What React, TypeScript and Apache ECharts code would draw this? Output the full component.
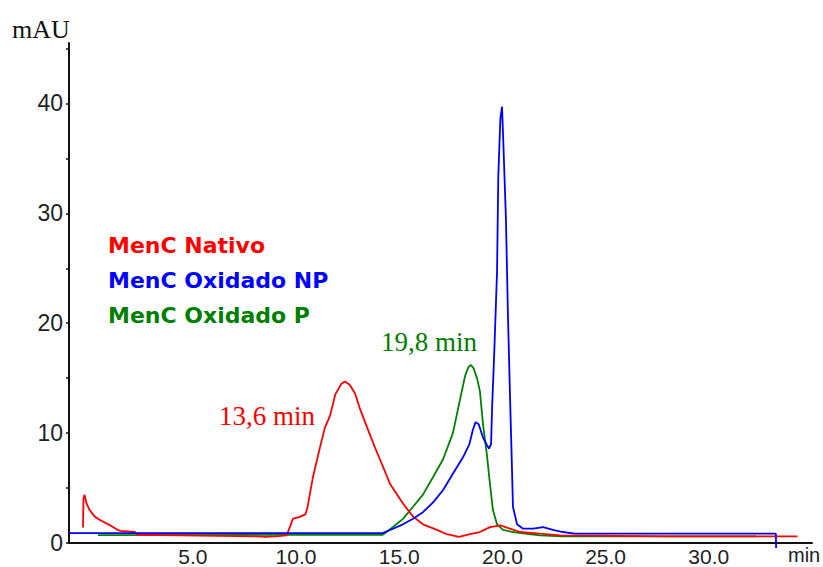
import React, { useEffect, useRef } from "react";
import * as echarts from "echarts";

// Time (min) / absorbance (mAU) pairs
const nativo: [number, number][] = [
  [-0.32, 1.4], [-0.3, 4.0], [-0.25, 4.4], [-0.15, 3.6], [0.0, 3.0], [0.25, 2.4],
  [0.5, 2.1], [1.0, 1.6], [1.35, 1.2], [1.5, 1.1], [2.2, 1.0], [2.3, 0.75],
  [3.4, 0.72], [8.2, 0.6], [8.5, 0.55], [9.0, 0.6], [9.55, 0.7], [9.85, 2.2],
  [10.2, 2.4], [10.45, 2.6], [10.55, 3.2], [10.82, 6.0], [11.16, 8.7], [11.4, 10.5],
  [11.65, 11.6], [11.9, 13.5], [12.2, 14.5], [12.37, 14.7], [12.6, 14.4], [12.86, 13.6],
  [13.1, 12.2], [13.49, 10.3], [13.8, 8.8], [14.07, 7.6], [14.55, 5.4], [15.18, 3.6],
  [15.67, 2.4], [16.15, 1.7], [16.83, 1.2], [17.31, 0.8], [17.9, 0.55], [18.43, 0.8],
  [18.9, 1.0], [19.4, 1.45], [19.9, 1.6], [20.37, 1.3], [20.85, 1.0], [21.8, 0.85],
  [22.8, 0.7], [28.0, 0.6], [34.3, 0.6],
];

const oxidadoNP: [number, number][] = [
  [-1, 0.9], [14.2, 0.9], [14.7, 1.3], [15.18, 1.7], [15.67, 2.2], [16.15, 2.8],
  [16.64, 3.7], [17.12, 4.8], [17.6, 6.3], [18.09, 7.8], [18.4, 9.0], [18.57, 10.3],
  [18.7, 11.0], [18.85, 10.8], [19.06, 9.6], [19.25, 8.9], [19.35, 8.6], [19.45, 9.0],
  [19.5, 12.3], [19.6, 17.1], [19.74, 24.7], [19.8, 33.3], [19.9, 38.6], [19.98, 39.7],
  [20.03, 37.2], [20.17, 29.5], [20.27, 20.6], [20.37, 13.2], [20.46, 7.0], [20.51, 3.3],
  [20.71, 1.7], [21.0, 1.3], [21.5, 1.3], [21.97, 1.45], [22.45, 1.2], [22.93, 1.0],
  [23.5, 0.85], [33.25, 0.85], [33.26, -0.45],
];

const oxidadoP: [number, number][] = [
  [0.4, 0.72], [14.2, 0.75], [14.7, 1.45], [15.18, 2.2], [15.67, 3.3], [16.15, 4.4],
  [16.64, 6.0], [17.12, 7.6], [17.6, 10.0], [17.94, 13.0], [18.19, 15.2], [18.35, 16.0],
  [18.48, 16.2], [18.6, 15.9], [18.77, 15.0], [18.91, 13.8], [19.06, 10.8], [19.25, 8.0],
  [19.4, 5.3], [19.54, 3.0], [19.74, 1.7], [20.03, 1.2], [20.51, 1.0], [21.3, 0.8],
  [21.82, 0.7], [22.93, 0.6], [32.3, 0.6],
];

const seriesNames = ["MenC Nativo", "MenC Oxidado NP", "MenC Oxidado P"];
const seriesColors = ["#ff0000", "#0000ff", "#008000"];
const xTickLabels = [5, 10, 15, 20, 25, 30];
const yTicks = [0, 5, 10, 15, 20, 25, 30, 35, 40, 45];
const yTickLabels = [0, 10, 20, 30, 40];

export default function App() {
  const ref = useRef<HTMLDivElement>(null);
  useEffect(() => {
    if (!ref.current) return;
    const chart = echarts.init(ref.current, null, { renderer: "svg" });
    const datasets = [nativo, oxidadoNP, oxidadoP];
    chart.setOption({
      animation: false,
      backgroundColor: "#ffffff",
      grid: { left: 69, right: 11, top: 43, bottom: 21 },
      legend: {
        orient: "vertical",
        left: 98,
        top: 229,
        icon: "none",
        itemWidth: 0,
        itemHeight: 20,
        itemGap: 13,
        selectedMode: false,
        textStyle: {
          fontFamily: "DejaVu Sans",
          fontWeight: "bold",
          fontSize: 22,
          lineHeight: 20,
        },
        data: seriesNames.map((n, i) => ({
          name: n,
          textStyle: { color: seriesColors[i] },
        })),
      },
      xAxis: {
        type: "value",
        min: -1,
        max: 35,
        splitLine: { show: false },
        axisLine: { show: true, onZero: false, lineStyle: { color: "#111", width: 2 } },
        axisTick: { show: false },
        axisLabel: {
          customValues: xTickLabels,
          formatter: (v: number) => v.toFixed(1),
          fontFamily: "Liberation Sans",
          fontSize: 21,
          color: "#222",
          margin: 3,
        },
      },
      yAxis: {
        type: "value",
        min: 0,
        max: 45.5,
        splitLine: { show: false },
        axisLine: { show: true, onZero: false, lineStyle: { color: "#111", width: 2 } },
        axisTick: {
          show: true,
          customValues: yTicks,
          length: 3,
          lineStyle: { color: "#111", width: 1.5 },
        },
        axisLabel: {
          customValues: yTickLabels,
          fontFamily: "Liberation Sans",
          fontSize: 23,
          color: "#222",
          margin: 6,
        },
      },
      series: datasets.map((d, i) => ({
        name: seriesNames[i],
        type: "line",
        data: d,
        symbol: "none",
        showSymbol: false,
        clip: false,
        z: i === 0 ? 3 : i === 1 ? 4 : 2,
        lineStyle: { color: seriesColors[i], width: 1.8 },
        itemStyle: { color: seriesColors[i] },
      })),
      graphic: [
        {
          type: "text",
          x: 12,
          y: 29,
          style: {
            text: "mAU",
            font: '26px "Liberation Serif"',
            fill: "#111",
            verticalAlign: "middle",
          },
        },
        {
          type: "text",
          x: 788,
          y: 555,
          style: {
            text: "min",
            font: '20px "Liberation Sans"',
            fill: "#222",
            verticalAlign: "middle",
          },
        },
        {
          type: "text",
          x: 219,
          y: 416,
          style: {
            text: "13,6 min",
            font: '27px "Liberation Serif"',
            fill: "#ff0000",
            verticalAlign: "middle",
          },
        },
        {
          type: "text",
          x: 381,
          y: 342,
          style: {
            text: "19,8 min",
            font: '27px "Liberation Serif"',
            fill: "#008000",
            verticalAlign: "middle",
          },
        },
      ],
    });
    return () => chart.dispose();
  }, []);
  return (
    <div
      ref={ref}
      style={{ position: "absolute", left: 0, top: 0, width: 823, height: 567, background: "#fff" }}
    />
  );
}
